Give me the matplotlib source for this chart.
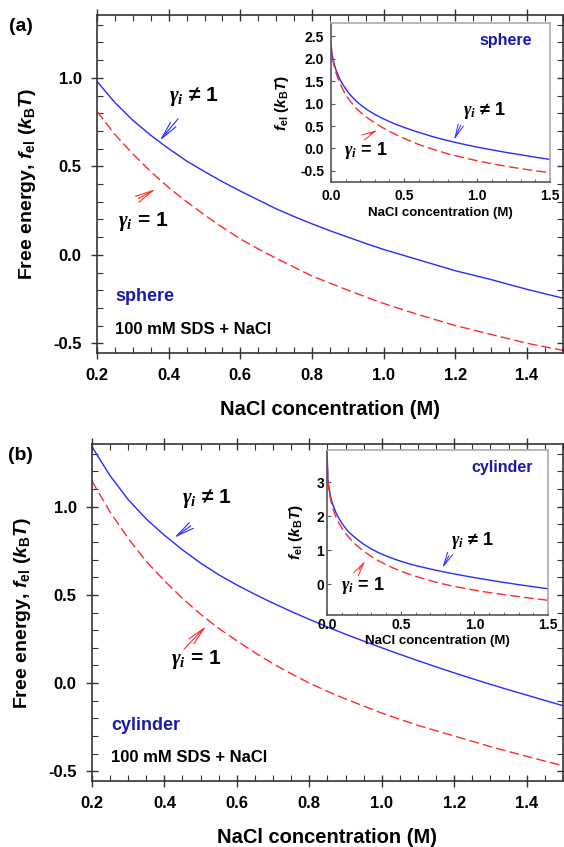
import numpy as np
import matplotlib
matplotlib.use('Agg')
import matplotlib.pyplot as plt

plt.rcParams['font.family'] = ['Liberation Sans', 'DejaVu Sans']
plt.rcParams['font.weight'] = 'bold'
plt.rcParams['mathtext.fontset'] = 'custom'
plt.rcParams['mathtext.rm'] = 'Liberation Sans:bold'
plt.rcParams['mathtext.it'] = 'Liberation Sans:italic:bold'
plt.rcParams['mathtext.bf'] = 'Liberation Sans:bold'
plt.rcParams['mathtext.sf'] = 'Liberation Serif:italic:bold'

# data (main panels, 0.2 - 1.5 M)
nacl = [0.2, 0.25, 0.3, 0.35, 0.4, 0.45, 0.5, 0.55, 0.6, 0.65, 0.7, 0.75, 0.8, 0.85,
        0.9, 0.95, 1.0, 1.05, 1.1, 1.15, 1.2, 1.25, 1.3, 1.35, 1.4, 1.45, 1.5]
sphere_gamma = [0.98, 0.86, 0.76, 0.675, 0.60, 0.53, 0.47, 0.413, 0.36, 0.31, 0.26, 0.216, 0.175, 0.136,
                0.10, 0.064, 0.03, 0.0, -0.03, -0.06, -0.09, -0.115, -0.14, -0.168, -0.195, -0.22, -0.245]
sphere_ideal = [0.81, 0.68, 0.57, 0.47, 0.38, 0.30, 0.225, 0.155, 0.09, 0.033, -0.02, -0.07, -0.12, -0.16,
                -0.20, -0.238, -0.275, -0.308, -0.34, -0.37, -0.40, -0.425, -0.45, -0.475, -0.50, -0.52, -0.54]
cyl_gamma = [1.34, 1.175, 1.04, 0.93, 0.838, 0.755, 0.68, 0.614, 0.556, 0.503, 0.453, 0.406, 0.361, 0.318,
             0.277, 0.238, 0.20, 0.163, 0.127, 0.092, 0.058, 0.025, -0.007, -0.038, -0.068, -0.098, -0.128]
cyl_ideal = [1.145, 0.97, 0.82, 0.69, 0.58, 0.48, 0.39, 0.31, 0.24, 0.172, 0.11, 0.053, 0.0, -0.047,
             -0.09, -0.13, -0.17, -0.205, -0.24, -0.27, -0.30, -0.33, -0.36, -0.388, -0.415, -0.442, -0.468]

# low-salt part of the insets (0 - 0.175 M), the rest follows the main curves
nacl_low = [0.0, 0.005, 0.01, 0.02, 0.03, 0.04, 0.06, 0.08, 0.1, 0.125, 0.15, 0.175]
sphere_gamma_low = [2.33, 2.14, 2.04, 1.90, 1.79, 1.70, 1.55, 1.43, 1.33, 1.22, 1.13, 1.05]
sphere_ideal_low = [2.33, 2.12, 2.01, 1.85, 1.73, 1.63, 1.46, 1.32, 1.20, 1.08, 0.98, 0.89]
cyl_gamma_low = [3.85, 3.12, 2.92, 2.65, 2.47, 2.33, 2.11, 1.94, 1.80, 1.65, 1.53, 1.43]
cyl_ideal_low = [3.85, 3.08, 2.86, 2.57, 2.37, 2.21, 1.98, 1.80, 1.66, 1.50, 1.37, 1.25]

blue = '#2a2aff'
red = '#ff2a2a'
g_neq = r'$\mathsf{\gamma_i}$ ≠ 1'
g_eq = r'$\mathsf{\gamma_i}$ = 1'

fig = plt.figure(figsize=(5.64, 8.47), dpi=100)


def main_panel(rect, yg, yi, shape, lab, ann, yl_x):
    ax = fig.add_axes(rect)
    ax.plot(nacl, yg, color=blue, lw=1.0)
    ax.plot(nacl, yi, color=red, lw=1.0, dashes=(7, 3))
    ax.set_xlim(0.2, 1.5)
    ax.set_ylim(-0.555, 1.355)
    ax.set_xticks([0.2, 0.4, 0.6, 0.8, 1.0, 1.2, 1.4])
    ax.set_xticks(np.arange(0.2, 1.51, 0.05), minor=True)
    ax.set_yticks([-0.5, 0.0, 0.5, 1.0])
    ax.set_yticks(np.arange(-0.5, 1.31, 0.1), minor=True)
    ax.xaxis.set_major_formatter(matplotlib.ticker.FormatStrFormatter('%.1f'))
    ax.yaxis.set_major_formatter(matplotlib.ticker.FormatStrFormatter('%.1f'))
    ax.tick_params(which='major', direction='inout', length=8, width=1, pad=7,
                   labelsize=12, top=True, right=True, color='#333333')
    ax.tick_params(which='minor', direction='in', length=4, width=0.8,
                   top=True, right=True, color='#333333')
    for s in ax.spines.values():
        s.set_color('#333333')
        s.set_linewidth(1.2)
    ax.set_xlabel('NaCl concentration (M)', fontsize=14.5, fontweight='bold')
    ax.set_ylabel(r'Free energy, $f_{\rm el}$ ($k_{\rm B}T$)', fontsize=14, fontweight='bold')
    ax.xaxis.set_label_coords(0.5, -0.14)
    ax.yaxis.set_label_coords(yl_x, 0.5)
    ax.text(ann['shape'][0], ann['shape'][1], shape, color='#1a1aaa', fontsize=13,
            fontweight='bold', va='center', ha='left')
    ax.text(ann['shape'][0], ann['sds'], '100 mM SDS + NaCl', color='black', fontsize=12,
            fontweight='bold', va='center', ha='left')
    ax.text(*ann['t_neq'], g_neq, fontsize=15, ha='center', va='center')
    ax.text(*ann['t_eq'], g_eq, fontsize=15, ha='center', va='center')
    ax.annotate('', xy=ann['tip_b'], xytext=ann['tail_b'],
                arrowprops=dict(arrowstyle='->,head_length=1.3,head_width=0.25', color=blue, lw=0.8))
    ax.annotate('', xy=ann['tip_r'], xytext=ann['tail_r'],
                arrowprops=dict(arrowstyle='->,head_length=1.3,head_width=0.25', color=red, lw=0.8))
    fig.text(0.037, rect[1] + rect[3] - 0.013, lab, fontsize=14, fontweight='bold',
             ha='center', va='center')
    return ax


def inset(rect, yg, yi, shape, ylim, yticks, fmt, ann, pad, xl_y, yl_x):
    ax = fig.add_axes(rect)
    ax.set_facecolor('white')
    ax.plot(nacl_low + nacl, yg, color=blue, lw=1.0)
    ax.plot(nacl_low + nacl, yi, color=red, lw=1.0, dashes=(7, 3))
    ax.set_xlim(0, 1.5)
    ax.set_ylim(*ylim)
    ax.set_xticks([0.0, 0.5, 1.0, 1.5])
    ax.set_xticks(np.arange(0, 1.51, 0.1), minor=True)
    ax.set_yticks(yticks)
    ax.xaxis.set_major_formatter(matplotlib.ticker.FormatStrFormatter('%.1f'))
    ax.yaxis.set_major_formatter(matplotlib.ticker.FormatStrFormatter(fmt))
    ax.tick_params(which='major', direction='in', length=3, width=0.8, pad=pad,
                   labelsize=10, color='#555555')
    ax.tick_params(which='minor', direction='in', length=2, width=0.6, color='#555555')
    ax.tick_params(axis='y', which='minor', left=False)
    for k, s in ax.spines.items():
        s.set_linewidth(1.2)
        s.set_color('#555555' if k in ('left', 'bottom') else '#aaaaaa')
    ax.set_xlabel('NaCl concentration (M)', fontsize=9.5, fontweight='bold')
    ax.set_ylabel(r'$f_{\rm el}$ ($k_{\rm B}T$)', fontsize=11, fontweight='bold')
    ax.xaxis.set_label_coords(0.5, xl_y)
    ax.yaxis.set_label_coords(yl_x, 0.5)
    ax.text(*ann['shape'], shape, color='#1a1aaa', fontsize=11.5, fontweight='bold',
            ha='center', va='center')
    ax.text(*ann['t_neq'], g_neq, fontsize=13, ha='center', va='center')
    ax.text(*ann['t_eq'], g_eq, fontsize=13, ha='center', va='center')
    ax.annotate('', xy=ann['tip_b'], xytext=ann['tail_b'],
                arrowprops=dict(arrowstyle='->,head_length=1.0,head_width=0.2', color=blue, lw=0.7))
    ax.annotate('', xy=ann['tip_r'], xytext=ann['tail_r'],
                arrowprops=dict(arrowstyle='->,head_length=1.0,head_width=0.2', color=red, lw=0.7))
    return ax


main_panel([0.172, 0.5832, 0.826, 0.3991], sphere_gamma, sphere_ideal, 'sphere', '(a)',
           dict(shape=(0.25, -0.237), sds=-0.424, t_neq=(0.47, 0.893), t_eq=(0.328, 0.186),
                tail_b=(0.431, 0.78), tip_b=(0.37, 0.633), tail_r=(0.309, 0.31), tip_r=(0.37, 0.379)),
           -0.127)
main_panel([0.163, 0.0779, 0.835, 0.3979], cyl_gamma, cyl_ideal, 'cylinder', '(b)',
           dict(shape=(0.2525, -0.243), sds=-0.424, t_neq=(0.518, 1.047), t_eq=(0.488, 0.136),
                tail_b=(0.479, 0.90), tip_b=(0.421, 0.815), tail_r=(0.449, 0.181), tip_r=(0.52, 0.334)),
           -0.125)

inset([0.587, 0.7851, 0.388, 0.1877], sphere_gamma_low + sphere_gamma, sphere_ideal_low + sphere_ideal,
      'sphere', (-0.75, 2.8), [-0.5, 0.0, 0.5, 1.0, 1.5, 2.0, 2.5], '%.1f',
      dict(shape=(1.2, 2.42), t_neq=(1.05, 0.84), t_eq=(0.24, -0.04),
           tail_b=(0.897, 0.58), tip_b=(0.835, 0.133), tail_r=(0.247, 0.29), tip_r=(0.336, 0.44)),
      5, -0.155, -0.183)
inset([0.580, 0.2739, 0.3918, 0.1948], cyl_gamma_low + cyl_gamma, cyl_ideal_low + cyl_ideal,
      'cylinder', (-0.9, 3.95), [0, 1, 2, 3], '%d',
      dict(shape=(1.19, 3.44), t_neq=(0.985, 1.29), t_eq=(0.245, -0.03),
           tail_b=(0.835, 0.91), tip_b=(0.774, 0.41), tail_r=(0.204, 0.35), tip_r=(0.27, 0.76)),
      2, -0.12, -0.1)

fig.savefig('out.png', dpi=100)
